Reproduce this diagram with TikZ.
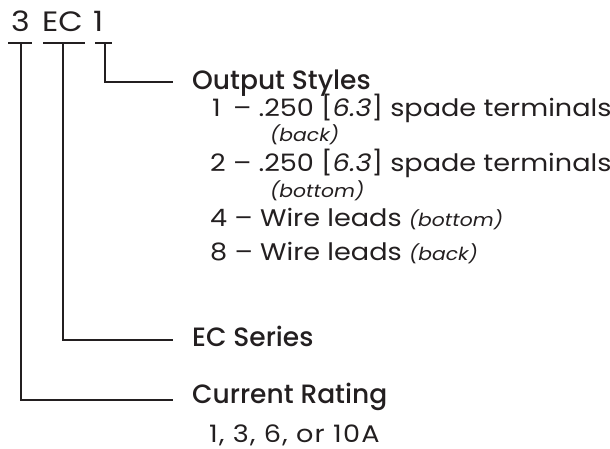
\documentclass[tikz,border=0pt]{standalone}
\usepackage{fontspec}
\setmainfont{Poppins}
\newfontfamily\bodyfont{Poppins}[FakeStretch=1.13]
\newfontfamily\titlefont{Poppins Medium}
\definecolor{ink}{HTML}{231F20}
\newcommand{\smitfont}{\bodyfont\fontsize{18}{18}\selectfont\itshape}
\newcommand{\onebox}{\rlap{\hspace{2pt}1}\hphantom{2}}
\begin{document}
\begin{tikzpicture}[x=1pt,y=-1pt,
  lbl/.style={anchor=base west,inner sep=0pt,text=ink},
  hd/.style={lbl,font=\bodyfont\fontsize{28}{28}\selectfont},
  ttl/.style={lbl,font=\titlefont\fontsize{26.5}{26.5}\selectfont},
  bd/.style={lbl,font=\bodyfont\fontsize{24}{24}\selectfont},
  sm/.style={lbl,font=\smitfont},
  wire/.style={draw=ink,line width=2pt},
  bar/.style={draw=ink,line width=2.8pt}]
\useasboundingbox (0,0) rectangle (610,449);
% header
\node[hd] (d3) at (11,32) {3};
\node[hd] (dEC) at (42,32) {EC};
\node[hd] (d1) at (93,32) {1};
% bars
\draw[bar] (8,43) -- (32,43);
\draw[bar] (43,43) -- (85,43);
\draw[bar] (95,43) -- (112,43);
\coordinate (b3) at (21,43);
\coordinate (bEC) at (63,43);
\coordinate (b1) at (105,43);
% labels
\node[ttl] (out) at (192,90) {Output Styles};
\node[bd] (o1) at (210,117) {\onebox{} – .250 [\textit{6.3}] spade terminals};
\node[sm] (o1b) at (270,142) {(back)};
\node[bd] (o2) at (210,172) {2 – .250 [\textit{6.3}] spade terminals};
\node[sm] (o2b) at (270,197) {(bottom)};
\node[bd] (o4) at (210,226) {4 – Wire leads {\smitfont (bottom)}};
\node[bd] (o8) at (210,260) {8 – Wire leads {\smitfont (back)}};
\node[ttl] (ec) at (192,346) {EC Series};
\node[ttl] (cr) at (192,403) {Current Rating};
\node[bd] (crv) at (209,442) {\addfontfeatures{LetterSpace=5}1, 3, 6, or 10A};
% connectors
\coordinate (e1) at (173,82);
\coordinate (eEC) at (173,340);
\coordinate (e3) at (173,400);
\draw[wire] (b1) |- (e1);
\draw[wire] (bEC) |- (eEC);
\draw[wire] (b3) |- (e3);
\end{tikzpicture}
\end{document}
